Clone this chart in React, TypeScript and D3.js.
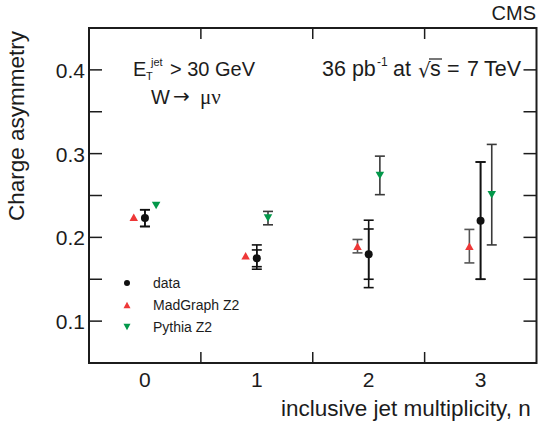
import React from "react";
import * as d3 from "d3";

const categories = [0, 1, 2, 3];
const xTickLabels = ["0", "1", "2", "3"];
const yTickValues = [0.1, 0.2, 0.3, 0.4];
const yMinorValues = [0.1, 0.15, 0.2, 0.25, 0.3, 0.35, 0.4];
const binEdges = [0.5, 1.5, 2.5];

const dataVals = [0.223, 0.175, 0.18, 0.22];
const dataErrInner = [0.01, 0.01, 0.03, 0.07];
const dataErrOuterUp = [0.01, 0.016, 0.0405, 0.07];
const dataErrOuterDown = [0.01, 0.013, 0.04, 0.07];

const madVals = [0.224, 0.178, 0.1895, 0.1895];
const madErr = [0, 0, 0.008, 0.02];

const pythiaVals = [0.238, 0.223, 0.274, 0.251];
const pythiaErr = [0, 0.008, 0.023, 0.06];

const legendLabels = ["data", "MadGraph Z2", "Pythia Z2"];

const W = 539;
const H = 423;
const FONT = "'Liberation Sans', Arial, Helvetica, sans-serif";
const INK = "#1c1c1c";
const RED = "#ee3737";
const GREEN = "#03984a";

export default function App() {
  const left = 89;
  const right = 536.5;
  const top = 28;
  const bottom = 363;
  const x = d3.scaleLinear().domain([-0.5, 3.5]).range([left, right]);
  const y = d3.scaleLinear().domain([0.05, 0.45]).range([bottom, top]);
  const off = 0.1;
  const cap = 5;

  const errBar = (cx: number, v: number, up: number, down: number, color: string, key: string) => {
    if (up <= 0 && down <= 0) return null;
    const y1 = y(v + up);
    const y2 = y(v - down);
    return (
      <g key={key} stroke={color} strokeWidth={1.6}>
        <line x1={cx} x2={cx} y1={y1} y2={y2} />
        <line x1={cx - cap} x2={cx + cap} y1={y1} y2={y1} />
        <line x1={cx - cap} x2={cx + cap} y1={y2} y2={y2} />
      </g>
    );
  };

  const triUp = (cx: number, cy: number, w: number, h: number) =>
    `M${cx - w / 2},${cy + h / 2}L${cx + w / 2},${cy + h / 2}L${cx},${cy - h / 2}Z`;
  const triDown = (cx: number, cy: number, w: number, h: number) =>
    `M${cx - w / 2},${cy - h / 2}L${cx + w / 2},${cy - h / 2}L${cx},${cy + h / 2}Z`;

  const legendX = 127;
  const legendY = [283, 305, 327];

  return (
    <svg width={W} height={H} style={{ position: "absolute", left: 0, top: 0, background: "#fff" }} fontFamily={FONT}>
      <rect x={0} y={0} width={W} height={H} fill="#fff" />
      {/* ticks */}
      <g stroke={INK} strokeWidth={1.5}>
        {binEdges.map((b) => (
          <g key={"xb" + b}>
            <line x1={x(b)} x2={x(b)} y1={bottom} y2={bottom - 11} />
            <line x1={x(b)} x2={x(b)} y1={top} y2={top + 11} />
          </g>
        ))}
        {yMinorValues.map((v) => (
          <g key={"yt" + v}>
            <line x1={left} x2={left + 13} y1={y(v)} y2={y(v)} />
            <line x1={right} x2={right - 13} y1={y(v)} y2={y(v)} />
          </g>
        ))}
      </g>
      <rect x={left} y={top} width={right - left} height={bottom - top} fill="none" stroke={INK} strokeWidth={2} />

      {/* tick labels */}
      {yTickValues.map((v) => (
        <text key={"yl" + v} x={85} y={y(v) + 8} textAnchor="end" fontSize={21} fill={INK}>
          {v.toFixed(1)}
        </text>
      ))}
      {categories.map((c, i) => (
        <text key={"xl" + c} x={x(c)} y={387} textAnchor="middle" fontSize={21} fill={INK}>
          {xTickLabels[i]}
        </text>
      ))}

      {/* axis titles */}
      <text x={281} y={416} fontSize={22.5} fill={INK}>
        inclusive jet multiplicity, n
      </text>
      <text transform={`translate(24,126) rotate(-90)`} textAnchor="middle" fontSize={22.5} fill={INK}>
        Charge asymmetry
      </text>

      {/* CMS */}
      <text x={536} y={20} textAnchor="end" fontSize={20} fill={INK}>
        CMS
      </text>

      {/* annotations */}
      <g fill={INK}>
        <text x={133} y={76} fontSize={20}>E</text>
        <text x={146} y={80} fontSize={11}>T</text>
        <text x={151} y={66} fontSize={11}>jet</text>
        <text x={170} y={76} fontSize={20}>&gt; 30 GeV</text>
        <text x={151} y={104} fontSize={20}>W</text>
        <text x={173} y={103} fontSize={20} fontFamily="'DejaVu Sans', sans-serif">→</text>
        <text x={200} y={104} fontSize={21} fontFamily="'Liberation Serif', 'DejaVu Serif', serif">μν</text>
        <text x={322} y={76} fontSize={21.5}>36 pb</text>
        <text x={377} y={66} fontSize={12}>-1</text>
        <text x={393} y={76} fontSize={21.5}>at</text>
        <text x={418} y={77} fontSize={20} fontFamily="'DejaVu Sans', sans-serif">√</text>
        <line x1={429} x2={442} y1={59} y2={59} stroke={INK} strokeWidth={1.2} />
        <text x={430} y={76} fontSize={21.5}>s</text>
        <text x={447} y={76} fontSize={21.5}>=</text>
        <text x={467} y={76} fontSize={21.5}>7</text>
        <text x={484} y={76} fontSize={21.5}>TeV</text>
      </g>

      {/* error bars */}
      {categories.map((c, i) =>
        errBar(x(c + off), pythiaVals[i], pythiaErr[i], pythiaErr[i], "#3a3a3a", "pe" + i)
      )}
      {categories.map((c, i) => errBar(x(c - off), madVals[i], madErr[i], madErr[i], "#555", "me" + i))}
      {categories.map((c, i) =>
        errBar(x(c), dataVals[i], dataErrOuterUp[i], dataErrOuterDown[i], "#111", "do" + i)
      )}
      {categories.map((c, i) => errBar(x(c), dataVals[i], dataErrInner[i], dataErrInner[i], "#111", "di" + i))}

      {/* markers */}
      {categories.map((c, i) => (
        <path key={"mm" + i} d={triUp(x(c - off), y(madVals[i]), 8.5, 7.5)} fill={RED} />
      ))}
      {categories.map((c, i) => (
        <path key={"pm" + i} d={triDown(x(c + off), y(pythiaVals[i]), 8.5, 7.5)} fill={GREEN} />
      ))}
      {categories.map((c, i) => (
        <circle key={"dm" + i} cx={x(c)} cy={y(dataVals[i])} r={4} fill="#111" />
      ))}

      {/* legend */}
      <circle cx={legendX} cy={legendY[0]} r={3} fill="#111" />
      <path d={triUp(legendX, legendY[1], 7, 6.5)} fill={RED} />
      <path d={triDown(legendX, legendY[2], 7, 6.5)} fill={GREEN} />
      {legendLabels.map((l, i) => (
        <text key={l} x={153} y={legendY[i] + 5} fontSize={14} fill={INK}>
          {l}
        </text>
      ))}
    </svg>
  );
}
